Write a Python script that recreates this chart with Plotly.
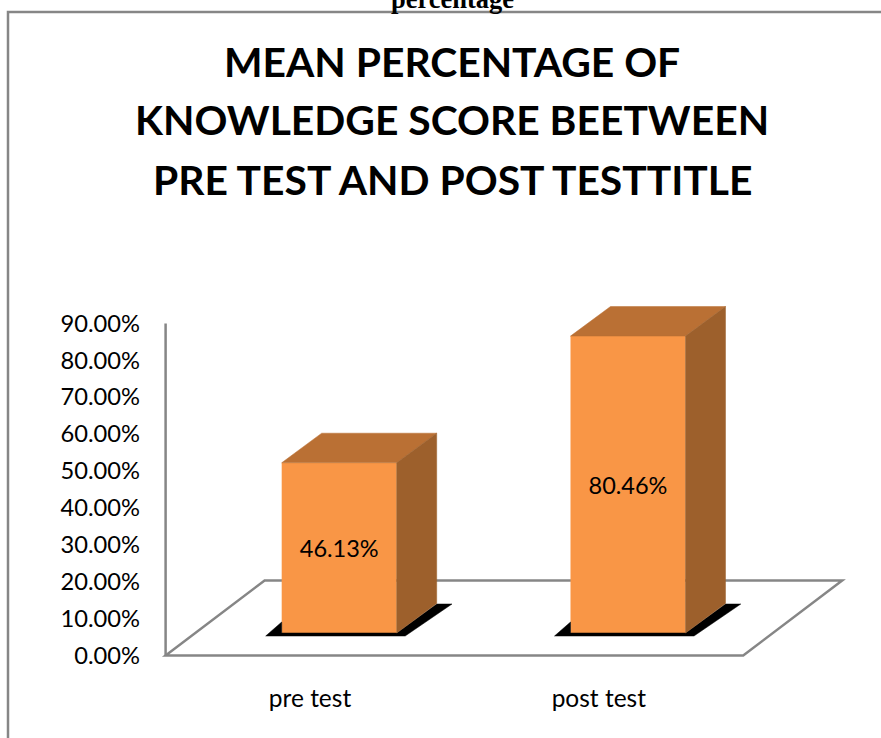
import plotly.graph_objects as go

# --- data ---
categories = ["pre test", "post test"]
values = [46.13, 80.46]
value_labels = ["46.13%", "80.46%"]
y_ticks = [0, 10, 20, 30, 40, 50, 60, 70, 80, 90]
y_tick_labels = ["0.00%", "10.00%", "20.00%", "30.00%", "40.00%", "50.00%", "60.00%", "70.00%", "80.00%", "90.00%"]
title_lines = ["MEAN PERCENTAGE OF", "KNOWLEDGE SCORE BEETWEEN", "PRE TEST AND POST TESTTITLE"]

# --- geometry / style ---
W, H = 881, 738
L, R, T, B = 157, 34, 285, 79
UX = 288.8           # px per category
UY = 3.69            # px per percent
X0_PX = 310.0        # px of first category tick
Y0_PX = 655.5        # px of 0%
xr = [(L - X0_PX) / UX, (W - R - X0_PX) / UX]
yr = [(Y0_PX - (H - B)) / UY, (Y0_PX - T) / UY]

FLOOR_X = (-0.5, 1.5)
FLOOR_DX, FLOOR_DY = 99 / UX, 75 / UY
BAR_OFFX, BAR_BASE = 29.2 / UX, 22.5 / UY
BAR_W = 115 / UX
DEPTH_X, DEPTH_Y = 40 / UX, 29.6 / UY
SH_L, SH_R, SH_D, SH_BX = 16 / UX, 8.5 / UX, 3 / UY, 15 / UX

FRONT, TOP, SIDE, GRAY = "#F99646", "#BA7034", "#9D602C", "#868686"
FONT = "Lato"
TXT = "#000000"


def px(x_pixel):
    return (x_pixel - L) / (W - L - R)


def py(y_pixel):
    return (H - B - y_pixel) / (H - T - B)


fig = go.Figure()


def poly(xs, ys, color):
    fig.add_trace(go.Scatter(x=xs + xs[:1], y=ys + ys[:1], mode="lines", fill="toself", fillcolor=color,
                             line=dict(color=color, width=0.5), hoverinfo="skip", showlegend=False,
                             cliponaxis=False))


cx = [i + BAR_OFFX for i in range(len(categories))]
for c, v in zip(cx, values):
    l, r = c - BAR_W / 2, c + BAR_W / 2
    b, t = BAR_BASE, BAR_BASE + v
    # shadow on the floor
    poly([l - SH_L, r + SH_R, r + DEPTH_X + SH_R * 1.8, r + DEPTH_X, r, l, l],
         [b - SH_D, b - SH_D, b + DEPTH_Y - 0.2 * SH_D, b + DEPTH_Y - 0.2 * SH_D, b, b, b + 12 / UY * 0.3 + 2],
         "#000000")
    # top and side faces
    poly([l, r, r + DEPTH_X, l + DEPTH_X], [t, t, t + DEPTH_Y, t + DEPTH_Y], TOP)
    poly([r, r + DEPTH_X, r + DEPTH_X, r], [b, b + DEPTH_Y, t + DEPTH_Y, t], SIDE)

fig.add_trace(go.Bar(x=cx, y=values, base=BAR_BASE, width=BAR_W, marker=dict(color=FRONT, line=dict(width=0)),
                     text=value_labels, textposition="inside", insidetextanchor="middle", textangle=0,
                     textfont=dict(family=FONT, size=23.5, color=TXT), hoverinfo="skip", showlegend=False,
                     cliponaxis=False))

x0, x1 = FLOOR_X
floor_path = (f"M {x0} 0 L {x1} 0 L {x1 + FLOOR_DX} {FLOOR_DY} L {x0 + FLOOR_DX} {FLOOR_DY} Z")
shapes = [
    dict(type="path", path=floor_path, xref="x", yref="y", layer="below", fillcolor="white",
         line=dict(color=GRAY, width=2.5)),
    dict(type="line", x0=x0, x1=x0, y0=0, y1=y_ticks[-1], xref="x", yref="y", layer="below",
         line=dict(color=GRAY, width=2.5)),
    # chart frame, running off the page at right and bottom
    dict(type="rect", x0=px(8), x1=px(W + 10), y0=py(H + 10), y1=py(12), xref="paper", yref="paper", layer="below",
         line=dict(color=GRAY, width=2.5), fillcolor="rgba(0,0,0,0)"),
]

annotations = [
    dict(text="<b>percentage</b>", x=px(452), y=py(-1), xref="paper", yref="paper", showarrow=False, xanchor="center",
         yanchor="middle", font=dict(family="Liberation Serif", size=26.5, color="#000000")),
]
for line, yc in zip(title_lines, [61, 119, 179]):
    annotations.append(dict(text=f"<b>{line}</b>", x=px(452), y=py(yc), xref="paper", yref="paper", showarrow=False,
                            xanchor="center", yanchor="middle",
                            font=dict(family=FONT, size=40.8, color="#000000")))

fig.update_layout(
    width=W, height=H, autosize=False, showlegend=False,
    paper_bgcolor="white", plot_bgcolor="rgba(0,0,0,0)",
    margin=dict(l=L, r=R, t=T, b=B, pad=0, autoexpand=False),
    shapes=shapes, annotations=annotations,
    xaxis=dict(range=xr, tickmode="array", tickvals=list(range(len(categories))), ticktext=categories,
               showgrid=False, zeroline=False, showline=False, ticks="", ticklabelstandoff=22,
               tickfont=dict(family=FONT, size=24.5, color=TXT)),
    yaxis=dict(range=yr, tickmode="array", tickvals=y_ticks, ticktext=y_tick_labels,
               showgrid=False, zeroline=False, showline=False, ticks="", ticklabelstandoff=16,
               tickfont=dict(family=FONT, size=23.7, color=TXT)),
)
fig.write_html("out.html", config=dict(displayModeBar=False),
               post_script="document.body.style.margin='0';document.body.style.overflow='hidden';")
